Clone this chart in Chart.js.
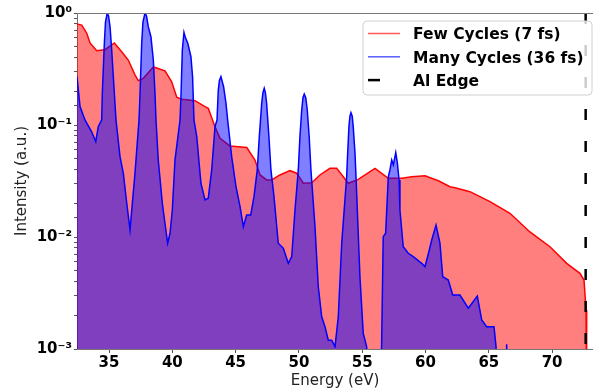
<!DOCTYPE html>
<html><head><meta charset="utf-8">
<script src="https://cdn.jsdelivr.net/npm/chart.js@4.4.0/dist/chart.umd.min.js"></script>
<style>html,body{margin:0;padding:0;background:#fff;overflow:hidden}</style>
</head><body>
<canvas id="c" width="593" height="390"></canvas>
<script>
// ---- data ----
const fewEnergy = [32.47,32.84,33.24,33.50,34.03,34.68,35.42,36.00,36.52,37.05,37.31,37.71,38.50,39.42,39.95,40.35,40.74,41.79,42.58,42.84,43.37,43.77,44.55,45.88,46.53,46.93,47.45,47.85,48.50,49.29,49.82,50.35,51.01,51.66,52.45,52.98,53.90,54.69,56.01,57.06,58.12,58.91,59.96,61.01,61.93,62.33,63.51,65.09,66.67,68.25,69.83,71.15,72.20,72.52,72.68,72.73];
const fewIntensity = [0.80,0.78,0.66,0.54,0.46,0.47,0.54,0.45,0.38,0.28,0.249,0.261,0.33,0.305,0.243,0.177,0.170,0.165,0.146,0.141,0.0966,0.076,0.065,0.063,0.0487,0.0358,0.0323,0.0323,0.0358,0.0391,0.0371,0.0302,0.0305,0.0358,0.0410,0.0410,0.0302,0.0327,0.0410,0.0334,0.0334,0.0345,0.0352,0.0318,0.0281,0.0275,0.0254,0.0207,0.0163,0.0111,0.00819,0.00582,0.00474,0.00413,0.00223,0.0003];
const manyEnergy = [
  32.47,32.71,33.10,33.63,33.95,34.15,34.42,34.47,34.63,34.72,
  34.86,34.96,35.08,35.21,35.34,35.55,35.87,36.13,36.40,36.66,
  36.84,37.05,37.37,37.45,37.58,37.68,37.84,37.96,38.10,38.31,
  38.50,38.63,38.71,38.89,39.21,39.42,39.63,39.82,40.00,40.21,
  40.61,40.69,40.79,40.92,41.04,41.22,41.47,41.60,41.71,41.93,
  42.26,42.58,42.84,43.11,43.37,43.53,43.63,43.72,43.84,44.05,
  44.24,44.37,44.69,45.03,45.35,45.61,45.87,46.19,46.45,46.71,
  46.87,47.06,47.16,47.26,47.35,47.45,47.63,47.79,48.03,48.37,
  48.77,49.16,49.43,49.69,49.95,50.08,50.22,50.32,50.42,50.54,
  50.66,50.81,50.95,51.27,51.53,51.80,52.06,52.32,52.59,52.85,
  53.11,53.38,53.77,53.85,53.95,54.03,54.11,54.21,54.29,54.43,
  54.51,54.82,55.08,55.35,55.45,56.40,56.53,56.66,56.85,57.06,
  57.19,57.33,57.46,57.65,57.78,57.91,57.98,58.24,58.64,59.03,
  59.70,59.96,60.30,60.49,60.83,61.14,61.36,61.80,62.15,62.72,
  63.38,64.09,64.44,64.83,65.41,65.57,65.65,66.28,66.41,66.52,
  66.60];
const manyIntensity = [
  0.27,0.146,0.111,0.087,0.071,0.0966,0.111,0.192,0.537,0.831,
  1.0,0.94,0.755,0.467,0.270,0.111,0.052,0.037,0.020,0.01155,
  0.020,0.037,0.111,0.192,0.537,0.831,1.0,0.94,0.755,0.614,
  0.380,0.192,0.111,0.0487,0.020,0.0132,0.0088,0.0108,0.0174,0.0487,
  0.111,0.192,0.467,0.672,0.60,0.537,0.407,0.270,0.111,0.0787,
  0.0302,0.0214,0.0222,0.0397,0.0966,0.111,0.205,0.25,0.270,0.220,
  0.156,0.111,0.052,0.0281,0.0187,0.01236,0.0157,0.0157,0.0229,0.0397,
  0.0787,0.156,0.195,0.213,0.195,0.156,0.0787,0.0397,0.0229,0.0088,
  0.00793,0.00582,0.00667,0.0174,0.0397,0.0787,0.136,0.175,0.189,0.175,
  0.136,0.0787,0.0397,0.01236,0.0036,0.00194,0.00158,0.0012,0.0012,0.00105,
  0.00194,0.0088,0.0345,0.0559,0.0966,0.120,0.129,0.120,0.0966,0.0559,
  0.0345,0.00442,0.00138,0.00105,0.0003,0.0003,0.00105,0.01007,0.0108,0.0345,
  0.0397,0.0487,0.044,0.0566,0.0455,0.0323,0.0174,0.00819,0.00715,0.00667,
  0.00582,0.00543,0.00766,0.0094,0.0128,0.0088,0.00442,0.00413,0.00303,0.00303,
  0.00231,0.00297,0.00182,0.00158,0.00158,0.00105,0.0003,0.0003,0.00110,0.0003,
  0.0003];
const alEdgeEnergy = 72.65;
const alEdgeSpan = [1, 0.001];
const seriesLabels = ['Few Cycles (7 fs)', 'Many Cycles (36 fs)', 'Al Edge'];
const xRange = [32.47, 73.23];
const yRange = [0.001, 1];
const xTickStep = 5;

// ---- build ----
const zip = (xs, ys) => xs.map((x, i) => ({x: x, y: ys[i]}));
const FONT = "'DejaVu Sans', 'Liberation Sans', sans-serif";
const SUP = {'0':'\u2070','1':'\u00b9','2':'\u00b2','3':'\u00b3','4':'\u2074','5':'\u2075','6':'\u2076','7':'\u2077','8':'\u2078','9':'\u2079','-':'\u207b'};
function powLabel(v) {
  const l = Math.log10(v), p = Math.round(l);
  if (Math.abs(l - p) > 1e-6) return '';
  return '10' + String(p).split('').map(c => SUP[c]).join('');
}

const frame = {
  id: 'frame',
  afterDraw(chart) {
    const {ctx, chartArea: a} = chart;
    ctx.save();
    ctx.strokeStyle = '#777'; ctx.lineWidth = 1;
    ctx.beginPath(); ctx.moveTo(a.left, a.top + 0.5); ctx.lineTo(a.right, a.top + 0.5); ctx.stroke();
    // legend box
    const bx = 363, by = 21, bw = 229, bh = 74, r = 4;
    ctx.beginPath();
    ctx.moveTo(bx + r, by); ctx.lineTo(bx + bw - r, by); ctx.arcTo(bx + bw, by, bx + bw, by + r, r);
    ctx.lineTo(bx + bw, by + bh - r); ctx.arcTo(bx + bw, by + bh, bx + bw - r, by + bh, r);
    ctx.lineTo(bx + r, by + bh); ctx.arcTo(bx, by + bh, bx, by + bh - r, r);
    ctx.lineTo(bx, by + r); ctx.arcTo(bx, by, bx + r, by, r); ctx.closePath();
    ctx.fillStyle = 'rgba(255,255,255,0.8)'; ctx.fill();
    ctx.strokeStyle = '#d0d0d0'; ctx.stroke();
    const ds = chart.data.datasets;
    ctx.font = 'bold 15.5px ' + FONT;
    ctx.textBaseline = 'alphabetic';
    ctx.textAlign = 'left';
    ds.forEach((d, i) => {
      const cy = 33.5 + i * 23.3;
      ctx.save();
      ctx.strokeStyle = d.borderColor;
      ctx.lineWidth = d.borderWidth;
      ctx.globalAlpha = i < 2 ? 0.65 : 1;
      ctx.beginPath();
      ctx.moveTo(368, cy); ctx.lineTo(i < 2 ? 400 : 380, cy); ctx.stroke();
      ctx.restore();
      ctx.fillStyle = '#000';
      ctx.fillText(d.label, 413, cy + 5.8);
    });
    ctx.restore();
  }
};

new Chart(document.getElementById('c'), {
  type: 'line',
  data: {
    datasets: [
      {label: seriesLabels[0], data: zip(fewEnergy, fewIntensity), borderColor: '#ff0000', backgroundColor: 'rgba(255,0,0,0.5)', borderWidth: 1.5, fill: 'start', order: 3},
      {label: seriesLabels[1], data: zip(manyEnergy, manyIntensity), borderColor: '#0000ff', backgroundColor: 'rgba(0,0,255,0.5)', borderWidth: 1.5, fill: 'start', order: 2},
      {label: seriesLabels[2], data: alEdgeSpan.map(v => ({x: alEdgeEnergy, y: v})), borderColor: '#000', borderWidth: 2.5, borderDash: [11, 21], fill: false, order: 1}
    ]
  },
  options: {
    responsive: false,
    animation: false,
    devicePixelRatio: 1,
    clip: 0,
    elements: {point: {radius: 0}, line: {tension: 0}},
    layout: {padding: {top: 13, right: 0, left: 0, bottom: 0}},
    plugins: {legend: {display: false}, tooltip: {enabled: false}},
    scales: {
      x: {
        type: 'linear', min: xRange[0], max: xRange[1],
        afterFit(s) { s.height = 41; },
        ticks: {stepSize: xTickStep, includeBounds: false, color: '#000', font: {family: FONT, size: 15, weight: 'bold'}, padding: 1, maxRotation: 0},
        grid: {drawOnChartArea: false, drawTicks: true, tickLength: 4, tickColor: '#555'},
        border: {color: '#777'},
        title: {display: true, text: 'Energy (eV)', color: '#222', font: {family: FONT, size: 15}, padding: {top: 0, bottom: 0}}
      },
      y: {
        type: 'logarithmic', min: yRange[0], max: yRange[1],
        afterFit(s) { s.width = 77; },
        ticks: {callback: v => powLabel(v), autoSkip: false, color: '#000', font: {family: FONT, size: 15, weight: 'bold'}, padding: 2},
        grid: {drawOnChartArea: false, drawTicks: true, tickLength: 3, tickColor: '#555'},
        border: {color: '#777'},
        title: {display: true, text: 'Intensity (a.u.)', color: '#222', font: {family: FONT, size: 15}, padding: {top: 13, bottom: 0}}
      }
    }
  },
  plugins: [frame]
});
</script>
</body></html>
